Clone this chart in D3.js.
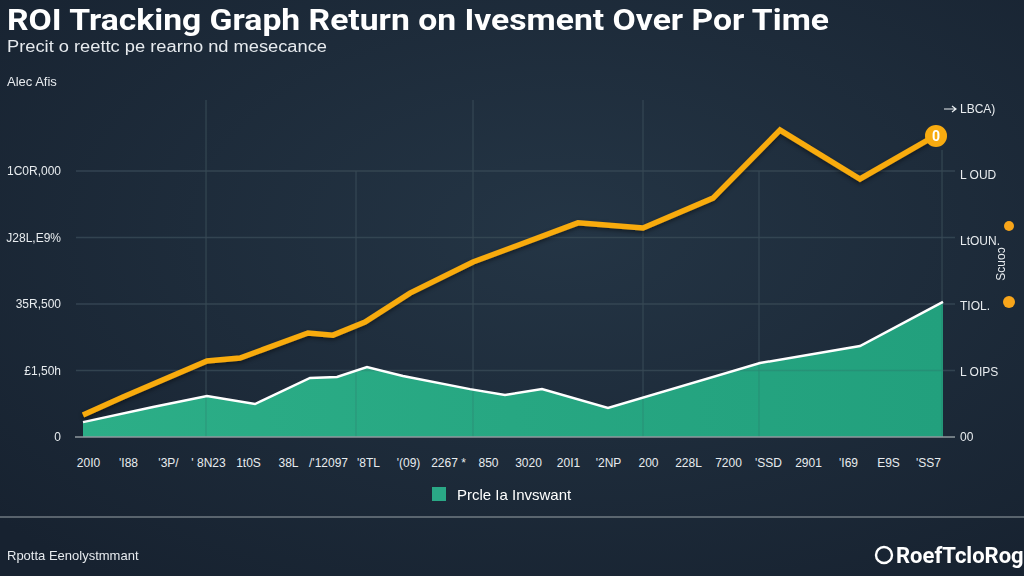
<!DOCTYPE html>
<html>
<head>
<meta charset="utf-8">
<script src="https://cdn.jsdelivr.net/npm/d3@7"></script>
<style>
  html, body { margin: 0; padding: 0; background: #1c2a37; }
  svg { display: block; }
</style>
</head>
<body>
<div id="chart"></div>
<script>
"use strict";

// ---------- data ----------
var xTickLabels = ["20I0", "'I88", "'3P/", "' 8N23", "1t0S", "38L", "/'12097", "'8TL", "'(09)", "2267 *", "850",
	"3020", "20I1", "'2NP", "200", "228L", "7200", "'SSD", "2901", "'I69", "E9S", "'SS7"];
var leftTicks = [0, 25000, 50000, 75000, 100000];
var leftTickLabels = ["0", "£1,50h", "35R,500", "J28L,E9%", "1C0R,000"];
var rightTicks = [0, 1, 2, 3, 4, 5];
var rightTickLabels = ["00", "L OIPS", "TIOL.", "LtOUN.", "L OUD", "LBCA)"];

// period index (x) and value for the return line
var roiPeriods = [-0.25, 1.75, 5.95, 7.6, 11, 12.25, 13.85, 16.1, 19.25, 24.5, 27.75, 31.25, 34.6, 38.6, 42.35];
var roiValues = [8300, 15000, 28600, 29700, 39100, 38300, 43200, 54100, 65800, 80500, 78600, 89800, 115400, 97000, 113200];

// period index (x) and value for the investment area
var invPeriods = [-0.25, 3.25, 5.95, 8.35, 11.1, 12.45, 13.95, 15.75, 19.1, 20.85, 22.7, 26, 33.6, 38.6, 42.75];
var invValues = [5600, 11300, 15400, 12400, 22200, 22600, 26300, 22900, 18000, 15800, 18000, 10900, 27800, 34200, 50800];

// vertical grid positions (period index)
var vGrid = [5.9, 13.4, 19.25, 27.75, 33.55, 42.7];

// ---------- layout ----------
var width = 1024, height = 576;
var plotLeft = 83, plotRight = 943, plotBottom = 437, plotTop = 171;

var svg = d3.select("#chart").append("svg")
	.attr("width", width)
	.attr("height", height);

var defs = svg.append("defs");

var bg = defs.append("radialGradient").attr("id", "bg")
	.attr("cx", "55%").attr("cy", "40%").attr("r", "75%");
bg.append("stop").attr("offset", "0%").attr("stop-color", "#243545");
bg.append("stop").attr("offset", "100%").attr("stop-color", "#172230");

var areaGrad = defs.append("linearGradient").attr("id", "areaGrad")
	.attr("x1", "0%").attr("x2", "100%").attr("y1", "0%").attr("y2", "0%");
areaGrad.append("stop").attr("offset", "0%").attr("stop-color", "#2cae87");
areaGrad.append("stop").attr("offset", "100%").attr("stop-color", "#22a07d");

var shadow = defs.append("filter").attr("id", "shadow")
	.attr("x", "-10%").attr("y", "-10%").attr("width", "120%").attr("height", "130%");
shadow.append("feDropShadow").attr("dx", 0).attr("dy", 2).attr("stdDeviation", 2)
	.attr("flood-color", "#000").attr("flood-opacity", 0.45);

svg.append("rect").attr("width", width).attr("height", height).attr("fill", "url(#bg)");

// ---------- scales ----------
var x = d3.scaleLinear().domain([-0.25, 42.75]).range([plotLeft, plotRight]);
var y = d3.scaleLinear().domain([0, 100000]).range([plotBottom, plotTop]);
var yRight = d3.scaleLinear().domain([0, 5]).range([plotBottom, 109]);

// ---------- grid ----------
var grid = svg.append("g");
grid.selectAll("line.h").data(leftTicks.slice(1)).enter().append("line")
	.attr("class", "h")
	.attr("x1", 76).attr("x2", 955)
	.attr("y1", function(d){ return y(d); })
	.attr("y2", function(d){ return y(d); })
	.attr("stroke", "#3a4b57").attr("stroke-width", 1.3).attr("opacity", 0.75);

grid.selectAll("line.v").data(vGrid).enter().append("line")
	.attr("class", "v")
	.attr("x1", function(d){ return x(d); })
	.attr("x2", function(d){ return x(d); })
	.attr("y1", function(d, i){ return (i == 1 || i == 4) ? y(100000) : (i == 5 ? 150 : 100); })
	.attr("y2", plotBottom)
	.attr("stroke", "#3a4b57").attr("stroke-width", 1.3).attr("opacity", 0.75);

// ---------- marks ----------
var invData = invPeriods.map(function(p, i){ return {p: p, v: invValues[i]}; });
var roiData = roiPeriods.map(function(p, i){ return {p: p, v: roiValues[i]}; });

svg.append("path")
	.datum(invData)
	.attr("fill", "url(#areaGrad)")
	.attr("d", d3.area()
		.x(function(d){ return x(d.p); })
		.y0(plotBottom)
		.y1(function(d){ return y(d.v); }));

// vertical grid shows faintly over the area
grid.clone(true).attr("opacity", 0.25).raise();

svg.append("path")
	.datum(invData)
	.attr("fill", "none")
	.attr("stroke", "#ffffff")
	.attr("stroke-width", 2.5)
	.attr("stroke-linejoin", "miter")
	.attr("d", d3.line()
		.x(function(d){ return x(d.p); })
		.y(function(d){ return y(d.v); }));

svg.append("line")
	.attr("x1", 75).attr("x2", 955)
	.attr("y1", plotBottom).attr("y2", plotBottom)
	.attr("stroke", "#8f999e").attr("stroke-width", 1.5);

svg.append("path")
	.datum(roiData)
	.attr("fill", "none")
	.attr("stroke", "#f8ab10")
	.attr("stroke-width", 5.5)
	.attr("stroke-linejoin", "miter")
	.attr("filter", "url(#shadow)")
	.attr("d", d3.line()
		.x(function(d){ return x(d.p); })
		.y(function(d){ return y(d.v); }));

var last = roiData[roiData.length - 1];
svg.append("circle")
	.attr("cx", x(last.p) + 1).attr("cy", y(last.v))
	.attr("r", 11)
	.attr("fill", "#f8ab10");
svg.append("text")
	.attr("x", x(last.p) + 1).attr("y", y(last.v) + 5)
	.attr("text-anchor", "middle")
	.attr("fill", "#ffffff")
	.style("font-family", "Roboto, sans-serif")
	.style("font-size", "14px")
	.style("font-weight", "bold")
	.text("0");

// ---------- axes ----------
var leftAxis = svg.append("g")
	.attr("transform", "translate(61,0)")
	.call(d3.axisLeft(y).tickValues(leftTicks).tickSize(0).tickPadding(0)
		.tickFormat(function(d, i){ return leftTickLabels[i]; }));
leftAxis.select(".domain").remove();

var rightAxis = svg.append("g")
	.attr("transform", "translate(960,0)")
	.call(d3.axisRight(yRight).tickValues(rightTicks).tickSize(0).tickPadding(0)
		.tickFormat(function(d, i){ return rightTickLabels[i]; }));
rightAxis.select(".domain").remove();

var bottomAxis = svg.append("g")
	.attr("transform", "translate(0,458)")
	.call(d3.axisBottom(x).tickValues(d3.range(0, 43, 2)).tickSize(0).tickPadding(0)
		.tickFormat(function(d, i){ return xTickLabels[i]; }));
bottomAxis.select(".domain").remove();

svg.selectAll(".tick text")
	.attr("fill", "#e8ecef")
	.style("font-family", "'Liberation Sans', Arial, sans-serif")
	.style("font-size", "12px");

// small arrow tick on the right axis top
svg.append("path")
	.attr("d", "M944," + yRight(5) + "H956M952," + (yRight(5) - 3) + "L956," + yRight(5) + "L952," + (yRight(5) + 3))
	.attr("stroke", "#e8ecef").attr("stroke-width", 1.2).attr("fill", "none");

// right side rotated label with dots
svg.append("circle").attr("cx", 1009).attr("cy", 226).attr("r", 5).attr("fill", "#f8a51a");
svg.append("circle").attr("cx", 1009).attr("cy", 302).attr("r", 6).attr("fill", "#f8a51a");
svg.append("text")
	.attr("transform", "translate(1005,264) rotate(-90)")
	.attr("text-anchor", "middle")
	.attr("fill", "#e8ecef")
	.style("font-family", "'Liberation Sans', Arial, sans-serif")
	.style("font-size", "12px")
	.text("Scuo\u0254");

// ---------- titles ----------
svg.append("text")
	.attr("x", 7).attr("y", 30)
	.attr("textLength", 822).attr("lengthAdjust", "spacingAndGlyphs")
	.attr("fill", "#ffffff")
	.style("font-family", "Roboto, sans-serif")
	.style("font-size", "29px")
	.style("font-weight", "bold")
	.text("ROI Tracking Graph  Return  on  Ivesment Over Por Time");

svg.append("text")
	.attr("x", 7).attr("y", 52)
	.attr("textLength", 320).attr("lengthAdjust", "spacingAndGlyphs")
	.attr("fill", "#e6eaee")
	.style("font-family", "'Liberation Sans', Arial, sans-serif")
	.style("font-size", "16px")
	.text("Precit o reettc pe rearno nd mesecance");

svg.append("text")
	.attr("x", 7).attr("y", 86)
	.attr("fill", "#e6eaee")
	.style("font-family", "'Liberation Sans', Arial, sans-serif")
	.style("font-size", "13px")
	.text("Alec Afis");

// ---------- legend ----------
svg.append("rect")
	.attr("x", 432).attr("y", 487).attr("width", 14).attr("height", 14)
	.attr("fill", "#2aa886");
svg.append("text")
	.attr("x", 457).attr("y", 500)
	.attr("fill", "#ffffff")
	.style("font-family", "'Liberation Sans', Arial, sans-serif")
	.style("font-size", "15px")
	.text("Prcle Ia Invswant");

// ---------- footer ----------
svg.append("line")
	.attr("x1", 0).attr("x2", width).attr("y1", 517).attr("y2", 517)
	.attr("stroke", "#9aa3a8").attr("stroke-width", 1);

svg.append("text")
	.attr("x", 7).attr("y", 560)
	.attr("fill", "#e6eaee")
	.style("font-family", "'Liberation Sans', Arial, sans-serif")
	.style("font-size", "13px")
	.text("Rpotta Eenolystmmant");

svg.append("circle")
	.attr("cx", 884).attr("cy", 555).attr("r", 8)
	.attr("fill", "none").attr("stroke", "#ffffff").attr("stroke-width", 2.4);
svg.append("text")
	.attr("x", 896).attr("y", 563)
	.attr("fill", "#ffffff")
	.style("font-family", "Roboto, sans-serif")
	.style("font-size", "22px")
	.style("font-weight", "bold")
	.text("RoefTcloRog");
</script>
</body>
</html>
